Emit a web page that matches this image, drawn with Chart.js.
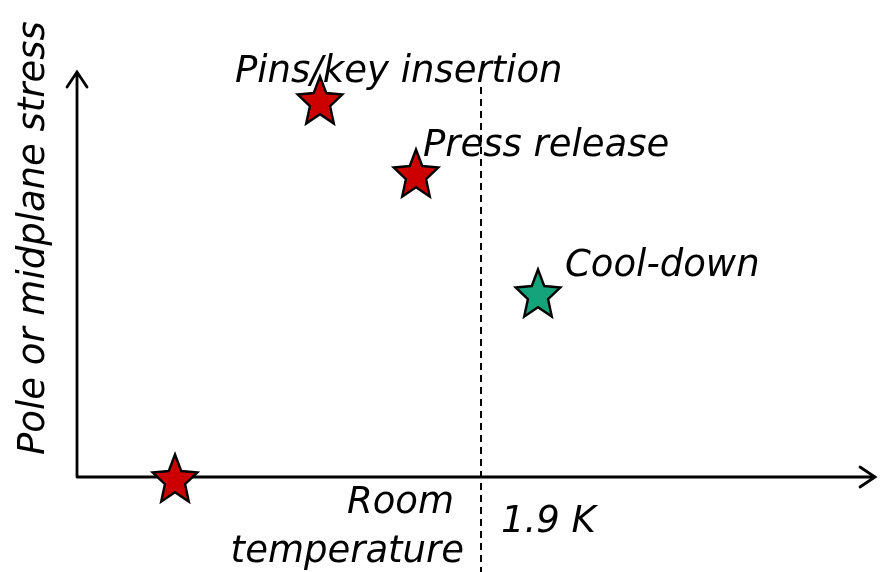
<!DOCTYPE html>
<html>
<head>
<meta charset="utf-8">
<script src="https://cdn.jsdelivr.net/npm/chart.js@4.4.0/dist/chart.umd.min.js"></script>
<style>
  html, body { margin: 0; padding: 0; background: #ffffff; }
  #wrap { width: 885px; height: 572px; }
</style>
</head>
<body>
<div id="wrap"><canvas id="my-chart"></canvas></div>
<script>
'use strict';

// ******** DATA **************
let stepNames = ['Start', 'Pins/key insertion', 'Press release', 'Cool-down'];
let tempValues = [0.98, 2.43, 3.39, 4.61];
let stressValues = [-0.01, 3.77, 3.04, 1.84];
let stepColors = ['#cc0000', '#cc0000', '#cc0000', '#15a37c'];

let yAxisTitle = 'Pole or midplane stress';
let roomLabel = ['Room', 'temperature'];
let coldLabel = '1.9 K';
let coldTemp = 4.04;

// ********* STAR MARKERS *************
// five point star stretched to fill a ~46 x 48 box, like the office shape
function makeStar(fill) {
  let c = document.createElement('canvas');
  let s = 56;
  c.width = s;
  c.height = s;
  let ctx = c.getContext('2d');
  let cx = s / 2, cy = s / 2;
  let R = 23.5, inner = 0.45;
  let halfH = 23.5;
  ctx.beginPath();
  for (let i = 0; i < 10; i++) {
    let r = i % 2 === 0 ? R : R * inner;
    let a = -Math.PI / 2 + i * Math.PI / 5;
    let px = cx + r * Math.cos(a);
    let yy = r * Math.sin(a);
    let py = cy - halfH + (yy + R) / (1.809 * R) * 2 * halfH;
    if (i === 0) ctx.moveTo(px, py); else ctx.lineTo(px, py);
  }
  ctx.closePath();
  ctx.fillStyle = fill;
  ctx.fill();
  ctx.lineWidth = 2.4;
  ctx.lineJoin = 'miter';
  ctx.strokeStyle = '#000000';
  ctx.stroke();
  return c;
}
let stars = stepColors.map(makeStar);

// ********* DRAWING PLUGIN *************
let font = 'italic 37px "DejaVu Sans"';

let sketchPlugin = {
  id: 'sketch',
  beforeDatasetsDraw(chart) {
    let ctx = chart.ctx;
    let x = chart.scales.x;
    let y = chart.scales.y;
    let x0 = x.getPixelForValue(0);
    let y0 = y.getPixelForValue(0);
    let xEnd = x.getPixelForValue(7.98);
    let yEnd = y.getPixelForValue(4.05);

    ctx.save();
    ctx.strokeStyle = '#000000';
    ctx.lineWidth = 2.8;
    ctx.lineCap = 'round';
    // axes
    ctx.beginPath();
    ctx.moveTo(x0, y0);
    ctx.lineTo(xEnd, y0);
    ctx.moveTo(x0, y0);
    ctx.lineTo(x0, yEnd);
    // arrow heads
    ctx.moveTo(xEnd - 15, y0 - 10);
    ctx.lineTo(xEnd, y0);
    ctx.lineTo(xEnd - 15, y0 + 10);
    ctx.moveTo(x0 - 10, yEnd + 15);
    ctx.lineTo(x0, yEnd);
    ctx.lineTo(x0 + 10, yEnd + 15);
    ctx.stroke();

    // dashed 1.9 K line
    let xd = x.getPixelForValue(coldTemp);
    ctx.lineWidth = 2;
    ctx.lineCap = 'butt';
    ctx.setLineDash([7, 5]);
    ctx.beginPath();
    ctx.moveTo(xd, y.getPixelForValue(3.9));
    ctx.lineTo(xd, chart.height);
    ctx.stroke();
    ctx.setLineDash([]);

    // texts
    ctx.fillStyle = '#000000';
    ctx.font = font;
    ctx.textBaseline = 'alphabetic';
    ctx.textAlign = 'right';
    ctx.fillText(roomLabel[0], xd - 27, y0 + 36);
    ctx.fillText(roomLabel[1], xd - 17, y0 + 85);
    ctx.textAlign = 'left';
    ctx.fillText(coldLabel, xd + 20, y0 + 55);

    // point labels
    let meta = chart.getDatasetMeta(0);
    let offsets = [null, [-85, -18], [7, -17], [27, -17]];
    for (let i = 0; i < meta.data.length; i++) {
      if (!offsets[i]) continue;
      let p = meta.data[i];
      ctx.fillText(stepNames[i], p.x + offsets[i][0], p.y + offsets[i][1]);
    }

    // y title
    ctx.translate(44, y0 - 22);
    ctx.rotate(-Math.PI / 2);
    ctx.textAlign = 'left';
    ctx.fillText(yAxisTitle, 0, 0);
    ctx.restore();
  }
};

// ********* CHART *************
let canvasElem = document.getElementById('my-chart');

let points = [];
for (let i = 0; i < tempValues.length; i++) {
  points.push({ x: tempValues[i], y: stressValues[i] });
}

new Chart(canvasElem, {
  type: 'scatter',
  data: {
    datasets: [{
      label: 'Steps',
      data: points,
      pointStyle: stars,
      pointRadius: 23,
      pointHoverRadius: 23,
      clip: false
    }]
  },
  options: {
    responsive: true,
    maintainAspectRatio: false,
    animation: false,
    events: [],
    layout: { padding: 0, autoPadding: false },
    plugins: {
      legend: { display: false },
      tooltip: { enabled: false }
    },
    scales: {
      x: { type: 'linear', min: -0.77, max: 8.08, display: false },
      y: { type: 'linear', min: -0.95, max: 4.77, display: false }
    }
  },
  plugins: [sketchPlugin]
});
</script>
</body>
</html>
